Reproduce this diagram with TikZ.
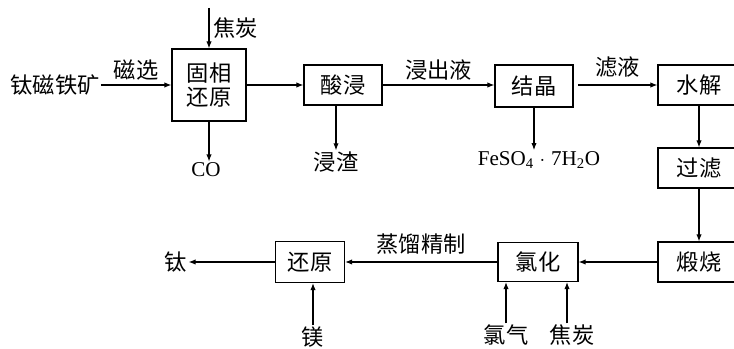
\documentclass[tikz,border=0pt]{standalone}
\usepackage{fontspec}
\setmainfont{Liberation Serif}
\newfontfamily\cjk{Noto Sans CJK SC}
\usetikzlibrary{positioning, arrows.meta}

\begin{document}
\begin{tikzpicture}[x=0.03cm, y=-0.03cm,
        box/.style={draw, line width=0.9pt, inner sep=0pt, minimum height=1.2cm, align=center, font=\cjk\fontsize{19}{21}\selectfont},
        lbl/.style={inner sep=1pt, font=\cjk\fontsize{19}{21}\selectfont},
        chem/.style={inner sep=1pt, font=\fontsize{18}{21}\selectfont},
        arr/.style={-{Latex[length=6pt,width=4.5pt]}, line width=0.9pt}]
    \useasboundingbox (0,0) rectangle (734,349);
    \fill[white] (0,0) rectangle (734,349);
    % first row
    \node[lbl] (ore) at (55,85) {钛磁铁矿};
    \node[box, minimum width=2.22cm, minimum height=2.16cm] (gx) at (209,85) {固相\\还原};
    \node[box, minimum width=2.34cm] (sj) at (343,85) {酸浸};
    \node[box, minimum width=2.34cm, minimum height=1.26cm] (jj) at (534,86) {结晶};
    \node[box, minimum width=2.46cm] (sh) at (699,85) {水解};
    \coordinate (c1) at (209,8);
    \node[chem] (co) at (206,170) {CO};
    \node[lbl] (jz) at (336,162) {浸渣};
    \node[chem] (fe) at (539,160) {FeSO\textsubscript{4}\;$\cdot$\;7H\textsubscript{2}O};
    % right column
    \node[box, minimum width=2.46cm] (gl) at (699,168) {过滤};
    \node[box, minimum width=2.46cm] (ds) at (699,262) {煅烧};
    % bottom row
    \node[box, minimum width=2.4cm, minimum height=1.17cm] (lh) at (538,262) {氯化};
    \node[box, minimum width=2.07cm, minimum height=1.23cm] (hy) at (310,262) {还原};
    \node[lbl] (ti) at (176,262) {钛};
    \node[lbl] (mg) at (313,337) {镁};
    \node[lbl] (cl) at (506,335) {氯气};
    \node[lbl] (c2) at (572,335) {焦炭};

    \draw[arr] (ore) -- (gx) node[midway, above=3pt, lbl] {磁选};
    \draw[arr] (c1) -- (gx) node[midway, right=2pt, lbl] {焦炭};
    \draw[arr] (gx.south) -- (gx.south |- co.north);
    \draw[arr] (gx) -- (sj);
    \draw[arr] (sj.south -| jz) -- (jz);
    \draw[arr] (sj) -- (jj.west |- sj) node[midway, above=3pt, lbl] {浸出液};
    \draw[arr] (jj.south) -- (jj.south |- fe.north);
    \draw[arr] ([xshift=4pt]jj.east |- sh) -- (sh) node[midway, above=5pt, lbl] {滤液};
    \draw[arr] (sh) -- (gl);
    \draw[arr] (gl) -- (ds);
    \draw[arr] (ds) -- (lh);
    \draw[arr] (lh) -- (hy) node[midway, above=5pt, lbl] {蒸馏精制};
    \draw[arr] (hy) -- (ti);
    \draw[arr] (mg.north) -- (mg.north |- hy.south);
    \draw[arr] (cl.north) -- (cl.north |- lh.south);
    \draw[arr] ([xshift=-0.15cm]c2.north) -- ([xshift=-0.15cm]c2.north |- lh.south);
\end{tikzpicture}
\end{document}
